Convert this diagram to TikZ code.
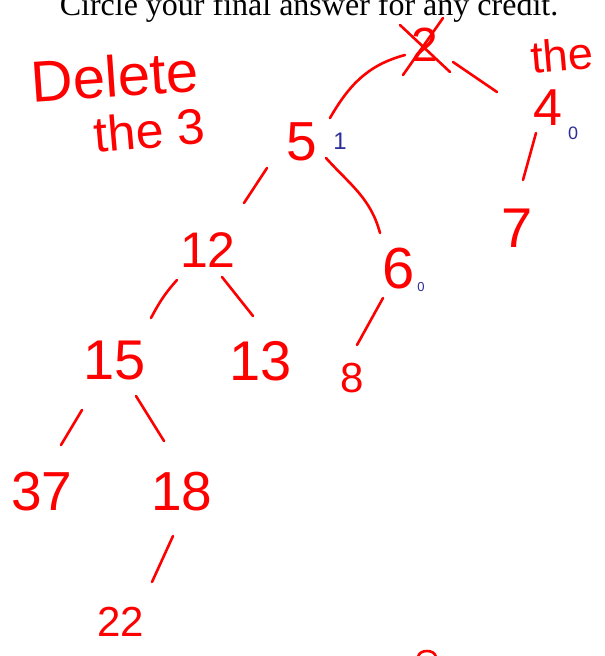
\documentclass[tikz,border=0pt]{standalone}
\usepackage{fontspec}
\setmainfont{Liberation Sans}
\newfontfamily\printed{Liberation Serif}
\usetikzlibrary{calc}
\definecolor{pen}{HTML}{FF0000}
\definecolor{ink}{HTML}{2E2E9A}

\begin{document}
\begin{tikzpicture}[x=1pt,y=1pt,
    key/.style={text=pen,inner sep=0pt,font=\fontsize{50}{50}\selectfont},
    npl/.style={text=ink,inner sep=0pt,font=\fontsize{18}{18}\selectfont},
    note/.style={text=pen,inner sep=0pt,anchor=base},
    stroke/.style={draw=pen,line width=2.6pt,line cap=round,line join=round}]
    \useasboundingbox (0,0) rectangle (605,-656);
    \clip (0,0) rectangle (605,-656);

    \node[anchor=base,inner sep=0pt,font=\printed\fontsize{32}{32}\selectfont] (title) at (309,-15) {Circle your final answer for any credit.};

    \node[note,rotate=4,font=\fontsize{58}{58}\selectfont] (del) at (116,-97) {Delete};
    \node[note,rotate=5,font=\fontsize{50}{50}\selectfont] (del3) at (151,-148) {the 3};
    \node[note,anchor=base west,rotate=5,font=\fontsize{45}{45}\selectfont] (the4) at (532,-74) {the};

    \node[key,font=\fontsize{48}{48}\selectfont] (root) at (425,-45) {2};
    \node[key,font=\fontsize{55}{55}\selectfont] (n5) at (302,-142) {5};
    \node[key,font=\fontsize{52}{52}\selectfont] (n4) at (548,-108) {4};
    \node[key,font=\fontsize{56}{56}\selectfont] (n7) at (517,-228) {7};
    \node[key] (n12) at (208,-250) {12};
    \node[key,font=\fontsize{58}{58}\selectfont] (n6) at (399,-269) {6};
    \node[key,font=\fontsize{56}{56}\selectfont] (n15) at (115,-361) {15};
    \node[key,font=\fontsize{56}{56}\selectfont] (n13) at (261,-361) {13};
    \node[key,font=\fontsize{42}{42}\selectfont] (n8) at (352,-378) {8};
    \node[key,font=\fontsize{55}{55}\selectfont] (n37) at (42,-492) {37};
    \node[key,font=\fontsize{55}{55}\selectfont] (n18) at (182,-492) {18};
    \node[key,font=\fontsize{42}{42}\selectfont] (n22) at (121,-622) {22};

    \node[npl,font=\fontsize{24}{24}\selectfont] (npl5) at (340,-141) {1};
    \node[npl] (npl4) at (573,-133) {0};
    \node[npl,font=\fontsize{13}{13}\selectfont] (npl6) at (421,-287) {0};

    \draw[stroke] ($(root)+(-22,-30)$) -- ($(root)+(18,27)$);
    \draw[stroke] ($(root)+(-25,20)$) -- ($(root)+(25,-27)$);

    \draw[stroke] ($(n5)+(28,24)$) to[out=60,in=195] ($(root)+(-20,-10)$);
    \draw[stroke] ($(root)+(28,-17)$) -- ($(n4)+(-51,16)$);
    \draw[stroke] ($(n4)+(-12,-25)$) -- ($(n7)+(6,48)$);
    \draw[stroke] ($(n5)+(-35,-26)$) -- ($(n12)+(36,47)$);
    \draw[stroke] ($(n5)+(24,-16)$) to[out=-48,in=105] ($(n6)+(-19,36)$);
    \draw[stroke] ($(n12)+(-31,-30)$) to[out=-132,in=62] ($(n15)+(36,43)$);
    \draw[stroke] ($(n12)+(14,-27)$) -- ($(n13)+(-8,45)$);
    \draw[stroke] ($(n6)+(-16,-29)$) -- ($(n8)+(5,33)$);
    \draw[stroke] ($(n15)+(-33,-49)$) -- ($(n37)+(19,47)$);
    \draw[stroke] ($(n15)+(21,-35)$) -- ($(n18)+(-18,51)$);
    \draw[stroke] ($(n18)+(-9,-44)$) -- ($(n22)+(31,40)$);

    \draw[stroke] (418,-657) to[out=80,in=180] (427,-651) to[out=0,in=100] (436,-657);
\end{tikzpicture}
\end{document}
